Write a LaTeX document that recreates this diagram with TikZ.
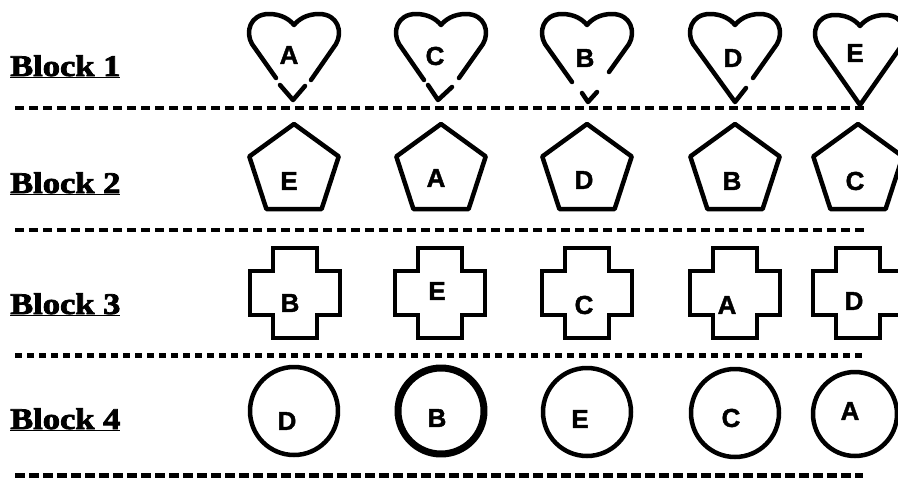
\documentclass[tikz,border=0pt]{standalone}
\usepackage{fontspec}
\setmainfont{Liberation Serif}
\newfontfamily\blockfont{Liberation Serif Bold}[FakeBold=2.5]
\newfontfamily\letterfont{Liberation Sans Bold}[FakeBold=1.5]
\begin{document}
\begin{tikzpicture}[x=1pt,y=-1pt,
  shapeline/.style={line width=4.5pt, line join=round, line cap=round},
  lab/.style={font=\letterfont\fontsize{26}{26}\selectfont, inner sep=0pt},
  blocklab/.style={font=\blockfont\fontsize{30}{30}\selectfont, anchor=base west, inner sep=0pt},
  sepa/.style={line width=4pt, dash pattern=on 9pt off 5pt},
  sepb/.style={line width=5pt, dash pattern=on 7pt off 5pt},
  sepc/.style={line width=5pt, dash pattern=on 10pt off 4pt}]
\clip (0,0) rectangle (898,479);
\fill[white] (0,0) rectangle (898,479);

% block labels
\node[blocklab] (b1) at (10,76) {\scalebox{1.15}[1]{\underline{Block\ 1}}};
\node[blocklab] (b2) at (10,193) {\scalebox{1.15}[1]{\underline{Block\ 2}}};
\node[blocklab] (b3) at (10,314) {\scalebox{1.15}[1]{\underline{Block\ 3}}};
\node[blocklab] (b4) at (10,429) {\scalebox{1.15}[1]{\underline{Block\ 4}}};

% separators
\coordinate (s1a) at (15,108); \coordinate (s1b) at (865,108);
\coordinate (s2a) at (15,230); \coordinate (s2b) at (865,230);
\coordinate (s3a) at (15,355); \coordinate (s3b) at (863,355);
\coordinate (s4a) at (15,475); \coordinate (s4b) at (863,475);
\draw[sepa] (s1a) -- (s1b);
\draw[sepa] (s2a) -- (s2b);
\draw[sepb] (s3a) -- (s3b);
\draw[sepc] (s4a) -- (s4b);

% ---- Row 1: hearts ----
\begin{scope}[shift={(294,14)}]
\draw[shapeline] (-18,64) -- (-42,30) .. controls (-49,18) and (-44,0) .. (-25,0)
  .. controls (-12,0) and (-4,6) .. (0,11) .. controls (4,6) and (12,0) .. (25,0)
  .. controls (44,0) and (49,18) .. (42,30) -- (17,66);
\draw[shapeline] (-14,71) -- (-1,86) -- (11,72);
\end{scope}
\begin{scope}[shift={(441,14)}]
\draw[shapeline] (-17,66) -- (-42,30) .. controls (-49,18) and (-44,0) .. (-25,0)
  .. controls (-12,0) and (-4,6) .. (0,11) .. controls (4,6) and (12,0) .. (25,0)
  .. controls (44,0) and (49,18) .. (42,30) -- (18,64);
\draw[shapeline] (-13,71) -- (-3,86) -- (11,73);
\end{scope}
\begin{scope}[shift={(587,14)}]
\draw[shapeline] (-15,68) -- (-42,30) .. controls (-49,18) and (-44,0) .. (-25,0)
  .. controls (-12,0) and (-4,6) .. (0,11) .. controls (4,6) and (12,0) .. (25,0)
  .. controls (44,0) and (49,18) .. (42,30) -- (22,58);
\draw[shapeline] (-5,79) -- (1,88) -- (10,78);
\end{scope}
\begin{scope}[shift={(735,14)}]
\draw[shapeline] (11,74) -- (0,88) -- (-42,30) .. controls (-49,18) and (-44,0) .. (-25,0)
  .. controls (-12,0) and (-4,6) .. (0,11) .. controls (4,6) and (12,0) .. (25,0)
  .. controls (44,0) and (49,18) .. (42,30) -- (18,64);
\end{scope}
\begin{scope}[shift={(860,15)}]
\draw[shapeline] (0,90) -- (-42,30) .. controls (-49,18) and (-44,0) .. (-25,0)
  .. controls (-12,0) and (-4,6) .. (0,11) .. controls (4,6) and (12,0) .. (25,0)
  .. controls (44,0) and (49,18) .. (42,30) -- cycle;
\end{scope}
\node[lab] (h1) at (289,55) {A};
\node[lab] (h2) at (435,56) {C};
\node[lab] (h3) at (585,58) {B};
\node[lab] (h4) at (733,58) {D};
\node[lab] (h5) at (855,53) {E};

% ---- Row 2: pentagons ----
\foreach \cx in {294,441,587,735,858}{
  \begin{scope}[shift={(\cx,171)}]
  \draw[shapeline] (-90:47) -- (-18:47) -- (54:47) -- (126:47) -- (198:47) -- cycle;
  \end{scope}
}
\node[lab] (p1) at (289,181) {E};
\node[lab] (p2) at (436,178) {A};
\node[lab] (p3) at (584,180) {D};
\node[lab] (p4) at (732,181) {B};
\node[lab] (p5) at (855,181) {C};

% ---- Row 3: crosses ----
\foreach \cx in {295,440,587,735,858}{
  \begin{scope}[shift={(\cx,293)}]
  \draw[shapeline, line cap=butt, line join=miter] (-22,-45) -- (22,-45) -- (22,-22) -- (45,-22) -- (45,22) -- (22,22) -- (22,45)
     -- (-22,45) -- (-22,22) -- (-45,22) -- (-45,-22) -- (-22,-22) -- cycle;
  \end{scope}
}
\node[lab] (c1) at (290,303) {B};
\node[lab] (c2) at (437,291) {E};
\node[lab] (c3) at (584,305) {C};
\node[lab] (c4) at (727,305) {A};
\node[lab] (c5) at (854,301) {D};

% ---- Row 4: circles ----
\draw[shapeline] (294,411) circle[radius=44];
\draw[shapeline, line width=7pt] (441,411) circle[radius=43];
\draw[shapeline] (587,412) circle[radius=44];
\draw[shapeline] (735,413) circle[radius=44];
\draw[shapeline] (855,414) circle[radius=42];
\node[lab] (r1) at (287,421) {D};
\node[lab] (r2) at (437,418) {B};
\node[lab] (r3) at (580,419) {E};
\node[lab] (r4) at (731,418) {C};
\node[lab] (r5) at (850,411) {A};
\end{tikzpicture}
\end{document}
